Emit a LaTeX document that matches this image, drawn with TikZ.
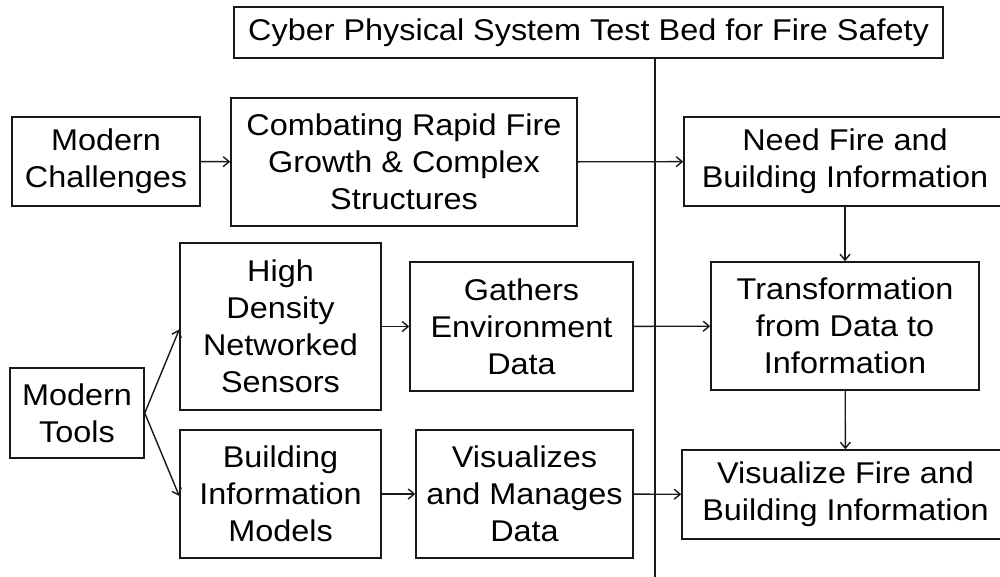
\documentclass[tikz,border=0pt]{standalone}
\usepackage{fontspec}
\setmainfont{Liberation Sans}[FakeStretch=1.08]
\usetikzlibrary{arrows.meta}
\begin{document}
\begin{tikzpicture}[x=1pt,y=-1pt,
  box/.style={draw=black!90,line width=1.5pt,align=center,inner sep=0pt,
    font=\fontsize{30}{37}\selectfont,text=black},
  arr/.style={line width=1.4pt,draw=black!90,-{Straight Barb[length=6pt,width=10pt]}},
  ln/.style={line width=1.5pt,draw=black!90}]
\useasboundingbox (0,0) rectangle (1000,577);
\node[box,minimum width=709pt,minimum height=51pt] (title) at (588.5,32.5) {Cyber Physical System Test Bed for Fire Safety};
\node[box,minimum width=188pt,minimum height=89pt] (mc) at (106,161.5) {Modern\\Challenges};
\node[box,minimum width=346pt,minimum height=128pt] (cb) at (404,162) {Combating Rapid Fire\\Growth \& Complex\\Structures};
\node[box,minimum width=322pt,minimum height=89pt] (need) at (845,161.5) {Need Fire and\\Building Information};
\node[box,minimum width=134pt,minimum height=90pt] (mt) at (77,413) {Modern\\Tools};
\node[box,minimum width=201pt,minimum height=167pt] (hd) at (280.5,326.5) {High\\Density\\Networked\\Sensors};
\node[box,minimum width=201pt,minimum height=128pt] (bim) at (280.5,494) {Building\\Information\\Models};
\node[box,minimum width=223pt,minimum height=129pt] (ga) at (521.5,326.5) {Gathers\\Environment\\Data};
\node[box,minimum width=217pt,minimum height=128pt] (vm) at (524.5,494) {Visualizes\\and Manages\\Data};
\node[box,minimum width=268pt,minimum height=128pt] (tr) at (845,326) {Transformation\\from Data to\\Information};
\node[box,minimum width=327pt,minimum height=89pt] (vf) at (845.5,494.5) {Visualize Fire and\\Building Information};
\coordinate (vend) at (655,580);
\draw[ln] (title.south -| vend) -- (vend);
\draw[arr] (mc) -- (cb);
\draw[arr] (cb) -- (need);
\draw[arr] (hd) -- (ga);
\draw[arr] (ga) -- (tr);
\draw[arr] (bim) -- (vm);
\draw[arr] (vm) -- (vf);
\draw[arr] (need) -- (tr);
\draw[arr] (tr) -- (vf);
\draw[arr] (mt.east) -- ([yshift=-3pt]hd.west);
\draw[arr] (mt.east) -- ([yshift=-2pt]bim.west);
\end{tikzpicture}
\end{document}
